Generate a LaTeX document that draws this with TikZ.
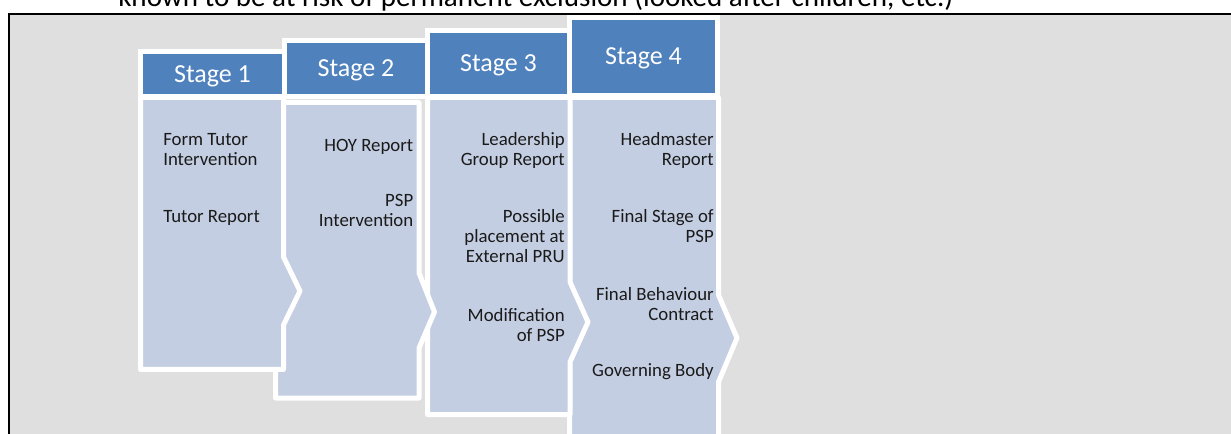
\documentclass[tikz,border=0pt]{standalone}
\usepackage{fontspec}
\setmainfont{Carlito}
\definecolor{hdrblue}{HTML}{4F81BD}
\definecolor{bodyblue}{HTML}{C4CEE2}
\definecolor{bggray}{HTML}{DFDFDF}
\definecolor{txt}{HTML}{1A1A1A}
\tikzset{
  hdrbox/.style={fill=hdrblue, draw=white, line width=3.75pt, text=white,
    font=\fontsize{19.5}{23}\selectfont, inner sep=0pt, outer sep=0pt,
    text height=12.56pt, text depth=0pt},
  bodyshape/.style={fill=bodyblue, draw=white, line width=3.75pt, line join=round},
  lefttxt/.style={anchor=base west, align=left, inner sep=0pt, text=txt,
    font=\fontsize{14.1}{15}\selectfont},
  righttxt/.style={anchor=base east, align=right, inner sep=0pt, text=txt,
    font=\fontsize{14.1}{15}\selectfont},
}
\begin{document}
\begin{tikzpicture}[x=0.75pt,y=-0.75pt]
\useasboundingbox (0,0) rectangle (1231,434);
\clip (0,0) rectangle (1231,434);
\fill[white] (0,0) rectangle (1231,434);
% frame
\draw[black, line width=1.5pt, fill=bggray] (9,14) rectangle (1260,460);
% cut-off caption above the frame
\node[anchor=base west, inner sep=0pt, text=black, font=\fontsize{21.8}{26}\selectfont]
  (caption) at (118,7) {known to be at risk of permanent exclusion (looked after children, etc.)};
% bodies (back to front)
\draw[bodyshape] (569.5,97.5) -- (718.5,97.5) -- (718.5,295) -- (737,338) -- (718.5,382) -- (718.5,460) -- (569.5,460) -- cycle;
\draw[bodyshape] (427.5,97.5) -- (570,97.5) -- (570,282) -- (588,322) -- (570,362) -- (570,414.5) -- (427.5,414.5) -- cycle;
\draw[bodyshape] (275.5,102.5) -- (419,102.5) -- (419,273) -- (434.5,312) -- (419,348) -- (419,398) -- (275.5,398) -- cycle;
\draw[bodyshape] (140.5,97.5) -- (283.5,97.5) -- (283.5,257) -- (300,291) -- (283.5,325) -- (283.5,369.5) -- (140.5,369.5) -- cycle;
% headers
\node[hdrbox, minimum width=108pt, minimum height=33.375pt] (h1) at (212.5,74.25) {Stage 1};
\node[hdrbox, minimum width=107.25pt, minimum height=42pt] (h2) at (356,68.5) {Stage 2};
\node[hdrbox, minimum width=106.5pt, minimum height=49.5pt] (h3) at (498.5,63.5) {Stage 3};
\node[hdrbox, minimum width=111pt, minimum height=58.5pt] (h4) at (643.5,56.5) {Stage 4};
% stage 1 texts (anchor = baseline of last line)
\node[lefttxt] (s1a) at (163,166) {Form Tutor\\Intervention};
\node[lefttxt] (s1b) at (163,223) {Tutor Report};
% stage 2 texts
\node[righttxt] (s2a) at (413.5,152) {HOY Report};
\node[righttxt] (s2b) at (413.5,227) {PSP\\Intervention};
% stage 3 texts
\node[righttxt] (s3a) at (565,166) {Leadership\\Group Report};
\node[righttxt] (s3b) at (565,263) {Possible\\placement at\\External PRU};
\node[righttxt] (s3c) at (565,342) {Modification\\of PSP};
% stage 4 texts
\node[righttxt] (s4a) at (714,166) {Headmaster\\Report};
\node[righttxt] (s4b) at (714,243) {Final Stage of\\PSP};
\node[righttxt] (s4c) at (714,321) {Final Behaviour\\Contract};
\node[righttxt] (s4d) at (714,377) {Governing Body};
\end{tikzpicture}
\end{document}
